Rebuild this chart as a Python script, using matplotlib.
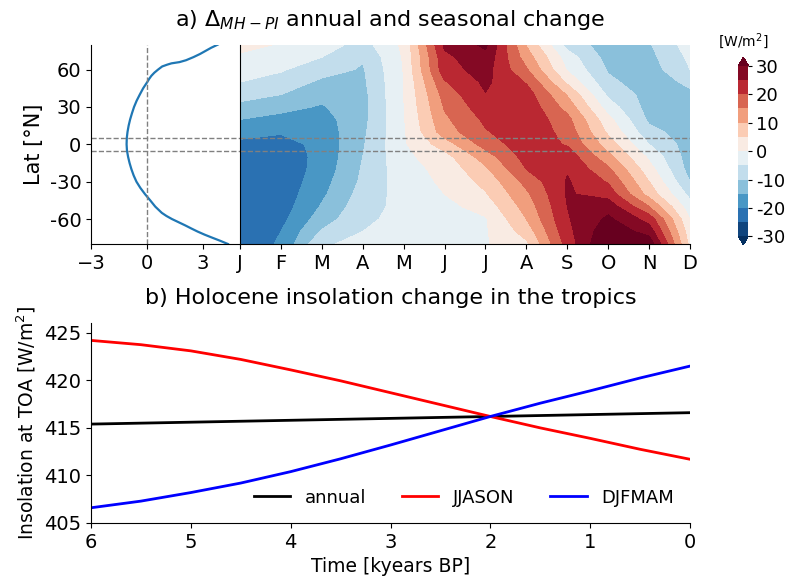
import numpy as np
import matplotlib
matplotlib.use('Agg')
import matplotlib.pyplot as plt

# a) canvi d'insolacio MH-PI [W/m2], una llista per mes (de 80N a 80S)
lat = [80, 70, 60, 50, 40, 30, 20, 10, 0, -10, -20, -30, -40, -50, -60, -70, -80]
mesos = ['J', 'F', 'M', 'A', 'M', 'J', 'J', 'A', 'S', 'O', 'N', 'D']
gen = [2, -1, -3, -5, -8, -11.5, -15, -18.5, -21, -22, -23, -23.5, -24, -24, -23.5, -23, -22.5]
feb = [-0.5, -2.5, -4.5, -7, -10, -13.5, -16.5, -19.5, -22, -23, -23.5, -23.5, -23, -22.5, -21.5, -20, -19.5]
mar = [-2.5, -5, -8, -11, -13.5, -15.5, -17, -18, -18.5, -18.5, -18, -17, -16, -14.5, -12.5, -9.5, -5.5]
abr = [-7, -9.5, -10.5, -11, -11.5, -11.5, -11.5, -11, -10.5, -10, -9.5, -9, -8, -7, -6, -5, -4]
mai = [1, 0.5, 0.2, 0, 0, -0.2, -0.4, -0.6, -0.7, -1.3, -2, -2.5, -3, -3.5, -3.5, -3.5, -3]
jun = [26, 23.8, 23, 19.5, 17, 15.5, 14, 12.5, 7.5, 3, 1.5, 0.8, 0, -1.5, -2.5, -2.5, -2]
jul = [31, 28.5, 27, 26, 24.8, 23, 21, 19.5, 17, 12.5, 9, 6.5, 4.5, 2, -0.5, -0.5, -0.5]
ago = [9.6, 12.5, 15.5, 19.5, 22.5, 23.5, 24, 24, 23, 22, 20, 16.5, 14, 12, 10, 7, 4]
sep = [-7, -2.5, -0.5, 4, 9.5, 13, 16.5, 18, 19.5, 23, 24.5, 25.5, 25.5, 25, 24.5, 23.5, 22]
octu = [-12.5, -12, -10.5, -9, -6, -2.5, 1.5, 4, 7.5, 11.5, 16, 19.5, 23, 28, 31, 33.5, 36]
nov = [-10.5, -11.5, -12.5, -12.5, -12, -12, -11, -8.5, -5, -1, 2, 5, 8, 15, 23, 28, 33.5]
des = [-2.5, -4, -5, -9, -11, -12, -12.5, -12.5, -12.5, -12.5, -12, -10, -6.5, -3, 0, 2, 3.5]

# mitjana anual per latitud
lat_anual = [80, 77.5, 75, 72.5, 70, 67.5, 66, 65, 64, 62.5, 60, 57.5, 55, 52.5, 50, 45, 40, 35, 30,
             25, 20, 15, 10, 5, 0, -5, -10, -15, -20, -25, -30, -35, -40, -45, -50, -55,
             -57.5, -60, -62.5, -65, -67.5, -70, -72.5, -75, -77.5, -80]
dins_anual = [3.8, 3.45, 3.15, 2.85, 2.5, 2.1, 1.75, 1.32, 1.1, 0.82, 0.6, 0.4, 0.24, 0.12, 0.02, -0.2,
              -0.38, -0.55, -0.69, -0.8, -0.9, -0.98, -1.04, -1.08, -1.09, -1.07, -1.01, -0.93, -0.83,
              -0.71, -0.56, -0.35, -0.1, 0.18, 0.45, 0.8, 1.05, 1.35, 1.7, 2.05, 2.38, 2.72, 3.1, 3.52,
              3.95, 4.35]
lat_trop = 5

# b) insolacio als tropics
temps = [6, 5.5, 5, 4.5, 4, 3.5, 3, 2.5, 2, 1.5, 1, 0.5, 0]
anual = [415.4, 415.5, 415.6, 415.7, 415.8, 415.9, 416.0, 416.1, 416.2, 416.3, 416.4, 416.5, 416.6]
jjason = [424.2, 423.75, 423.1, 422.2, 421.1, 419.95, 418.7, 417.45, 416.2, 415.0, 413.9, 412.75, 411.7]
djfmam = [406.6, 407.3, 408.2, 409.2, 410.4, 411.75, 413.2, 414.7, 416.2, 417.6, 418.9, 420.25, 421.5]

nivells = np.arange(-30, 31, 5)
dins = np.array([gen, feb, mar, abr, mai, jun, jul, ago, sep, octu, nov, des]).T

plt.rcParams['xtick.labelsize'] = 14
plt.rcParams['ytick.labelsize'] = 14

fig = plt.figure(figsize=(7.88, 5.8), dpi=100)
ax_an = fig.add_axes([0.1155, 0.5793, 0.1891, 0.3437])
ax_c = fig.add_axes([0.3046, 0.5793, 0.5711, 0.3437])
cax = fig.add_axes([0.937, 0.5776, 0.0127, 0.324])
ax_b = fig.add_axes([0.1155, 0.0983, 0.7602, 0.3443])

# perfil anual
ax_an.plot(dins_anual, lat_anual, color='C0', lw=1.6)
ax_an.axvline(0, color='gray', ls='--', lw=1)
for l in [lat_trop, -lat_trop]:
    ax_an.axhline(l, color='gray', ls='--', lw=1)
ax_an.set_xlim(-3, 5)
ax_an.set_ylim(-80, 80)
ax_an.set_xticks([-3, 0, 3])
ax_an.set_yticks([-60, -30, 0, 30, 60])
ax_an.set_yticklabels(['-60', '-30', '0', '30', '60'])
ax_an.set_ylabel('Lat [°N]', fontsize=15)
ax_an.spines['top'].set_visible(False)
ax_an.spines['right'].set_visible(False)

# cicle estacional
cf = ax_c.contourf(np.arange(12), lat, dins, levels=nivells, cmap='RdBu_r', extend='both')
for l in [lat_trop, -lat_trop]:
    ax_c.axhline(l, color='gray', ls='--', lw=1)
ax_c.set_xticks(np.arange(12))
ax_c.set_xticklabels(mesos)
ax_c.set_yticks([])
ax_c.set_ylim(-80, 80)
ax_c.spines['top'].set_visible(False)
ax_c.spines['right'].set_visible(False)

cb = fig.colorbar(cf, cax=cax, ticks=np.arange(-30, 31, 10))
cb.ax.set_yticklabels(['-30', '-20', '-10', '0', '10', '20', '30'])
cb.ax.tick_params(labelsize=13, length=3, pad=2.5)
cb.outline.set_visible(False)
cax.set_title('[W/m$^2$]', fontsize=10, pad=8)

fig.text(0.4955, 0.9655, 'a) $\\Delta_{MH-PI}$ annual and seasonal change',
         ha='center', va='center', fontsize=16)

# serie holocena
ax_b.plot(temps, anual, color='k', lw=2, label='annual')
ax_b.plot(temps, jjason, color='r', lw=2, label='JJASON')
ax_b.plot(temps, djfmam, color='b', lw=2, label='DJFMAM')
ax_b.set_xlim(6, 0)
ax_b.set_ylim(405, 426)
ax_b.set_yticks([405, 410, 415, 420, 425])
ax_b.set_xlabel('Time [kyears BP]', fontsize=13.5)
ax_b.set_ylabel('Insolation at TOA [W/m$^2$]', fontsize=13.5)
ax_b.spines['top'].set_visible(False)
ax_b.spines['right'].set_visible(False)
ax_b.legend(loc='lower right', ncol=3, frameon=False, fontsize=13)
fig.text(0.4955, 0.486, 'b) Holocene insolation change in the tropics',
         ha='center', va='center', fontsize=16)

plt.savefig('out.png', dpi=100)
plt.close('all')
